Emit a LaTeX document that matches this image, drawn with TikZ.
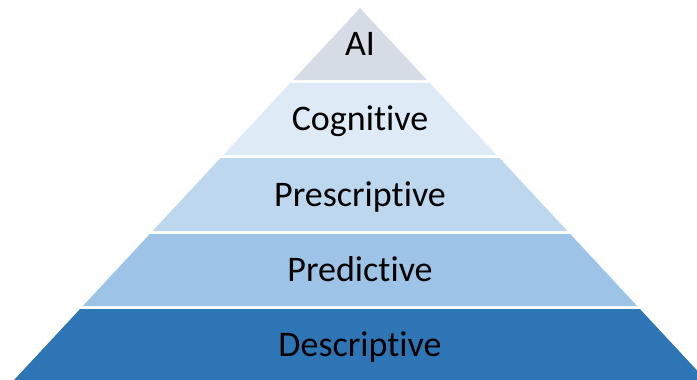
\documentclass[tikz,border=0pt]{standalone}
\usepackage{fontspec}
\setmainfont{Carlito}[Ligatures={NoCommon,NoContextual}]
\usepackage{tikz}
\usepackage{xcolor}
\usetikzlibrary{calc}

\definecolor{aigray}{HTML}{D6DCE5}
\definecolor{coglight}{HTML}{DEEBF7}
\definecolor{preslight}{HTML}{BDD7EE}
\definecolor{predmid}{HTML}{9DC3E6}
\definecolor{descdark}{HTML}{2E75B6}

\begin{document}
\begin{tikzpicture}[x=0.75pt,y=-0.75pt]
\tikzset{
layertext/.style = {font=\fontsize{27}{32}\selectfont, text=black, anchor=base, inner sep=0pt},
}
    %
\useasboundingbox (0,0) rectangle (697,379);
\clip (0,0) rectangle (697,379);
% apex at (360,8), sides run 0.93 px across per px down
\coordinate (apex) at (360,8);
\foreach \ytop/\ybot/\ybase/\col/\name/\txt in {
    8/80/55/aigray/ai/AI,
    83/155/130/coglight/cognitive/Cognitive,
    158/231/206/preslight/prescriptive/Prescriptive,
    234/306/281/predmid/predictive/Predictive,
    309/390/356/descdark/descriptive/Descriptive}{
\fill[\col] ({360-0.93*(\ytop-8)},\ytop) -- ({360+0.93*(\ytop-8)},\ytop)
    -- ({360+0.93*(\ybot-8)},\ybot) -- ({360-0.93*(\ybot-8)},\ybot) -- cycle;
\node[layertext] (\name) at (360,\ybase) {\txt};
}
    %
\end{tikzpicture}
\end{document}
